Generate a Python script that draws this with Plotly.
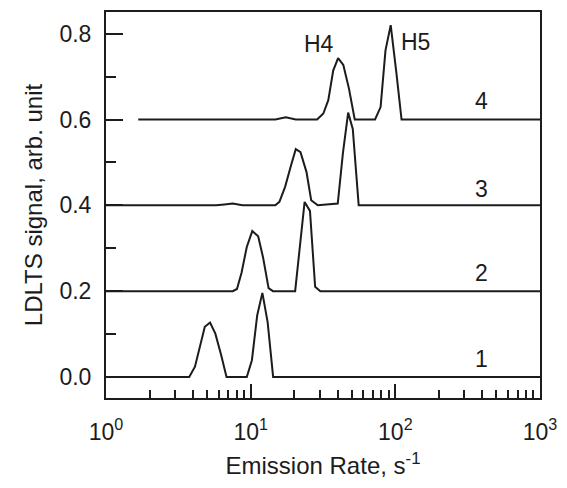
import math
import plotly.graph_objects as go

# Emission rates (s^-1) and LDLTS signal (arb. unit)
rate1 = [1.0, 3.76, 4.12, 4.82, 5.24, 5.70, 6.25, 6.81, 9.40, 10.2, 11.1, 12.05, 13.1, 14.3, 1000]
sig1 = [0, 0, 0.024, 0.117, 0.127, 0.101, 0.051, 0, 0, 0.039, 0.144, 0.196, 0.128, 0, 0]

rate2 = [1.0, 7.52, 8.04, 8.65, 9.40, 10.26, 11.27, 12.19, 13.30, 14.26, 20.3, 21.8, 23.6, 25.7, 27.9, 30.3, 1000]
sig2 = [0.2, 0.2, 0.205, 0.243, 0.303, 0.340, 0.328, 0.278, 0.207, 0.2, 0.2, 0.293, 0.408, 0.387, 0.210, 0.2, 0.2]

rate3 = [1.0, 5.78, 6.59, 7.52, 8.77, 14.8, 15.8, 17.3, 19.0, 20.5, 22.1, 24.3, 26.2, 29.1, 40.0, 43.4, 47.2, 50.8, 55.8, 1000]
sig3 = [0.4, 0.4, 0.402, 0.404, 0.4, 0.4, 0.408, 0.443, 0.493, 0.531, 0.524, 0.478, 0.412, 0.4, 0.404, 0.521, 0.616, 0.578, 0.4, 0.4]

rate4 = [1.67, 14.8, 17.5, 20.5, 28.8, 31.8, 34.4, 37.2, 40.2, 43.7, 47.8, 52.4, 72.4, 79.1, 85.5, 92.9, 101.6, 110.4, 1000]
sig4 = [0.6, 0.6, 0.605, 0.6, 0.6, 0.614, 0.645, 0.714, 0.743, 0.727, 0.672, 0.6, 0.6, 0.629, 0.761, 0.820, 0.710, 0.6, 0.6]

curve_labels = ["1", "2", "3", "4"]
curve_label_x = [395, 395, 395, 395]
curve_label_y = [0.042, 0.243, 0.438, 0.642]

peak_labels = ["H4", "H5"]
peak_label_x = [29.8, 137]
peak_label_y = [0.776, 0.781]

x_tickvals = [1, 10, 100, 1000]
x_ticktext = ["10<sup>0</sup>", "10<sup>1</sup>", "10<sup>2</sup>", "10<sup>3</sup>"]
x_minor = [m * d for d in (1, 10, 100) for m in range(2, 10)]

ink = "#1c1c1c"
font = "Liberation Sans, Arial, sans-serif"

fig = go.Figure()
for xs, ys in [(rate1, sig1), (rate2, sig2), (rate3, sig3), (rate4, sig4)]:
    fig.add_trace(go.Scatter(x=xs, y=ys, mode="lines",
                             line=dict(color=ink, width=2), showlegend=False))

# annotations on a log axis take log10 positions
for t, xv, yv in zip(curve_labels + peak_labels, curve_label_x + peak_label_x,
                     curve_label_y + peak_label_y):
    fig.add_annotation(x=math.log10(xv), y=yv, xref="x", yref="y", text=t, showarrow=False,
                       font=dict(size=23, color=ink, family=font))

fig.update_layout(
    width=567, height=488,
    margin=dict(l=106, r=19, t=10, b=90),
    plot_bgcolor="white", paper_bgcolor="white",
    font=dict(family=font, color=ink, size=23),
    xaxis=dict(
        type="log", range=[0, 3],
        tickvals=x_tickvals, ticktext=x_ticktext,
        ticks="inside", ticklen=14, tickwidth=2, tickcolor=ink,
        minor=dict(tickvals=x_minor, ticks="inside", ticklen=8, tickwidth=2, tickcolor=ink),
        showline=True, linewidth=2, linecolor=ink, mirror=True,
        showgrid=False, zeroline=False,
        tickfont=dict(size=23), ticklabelstandoff=12,
        title=dict(text="Emission Rate, s<sup>-1</sup>", font=dict(size=24), standoff=14),
    ),
    yaxis=dict(
        range=[-0.049, 0.8505],
        tickvals=[0, 0.2, 0.4, 0.6, 0.8], tickformat=".1f",
        ticks="inside", ticklen=17, tickwidth=2, tickcolor=ink,
        minor=dict(dtick=0.1, ticks="inside", ticklen=10, tickwidth=2, tickcolor=ink),
        showline=True, linewidth=2, linecolor=ink, mirror=True,
        showgrid=False, zeroline=False,
        tickfont=dict(size=23), ticklabelstandoff=8,
        title=dict(text="LDLTS signal, arb. unit", font=dict(size=24), standoff=10),
    ),
)

fig.write_html("out.html")
